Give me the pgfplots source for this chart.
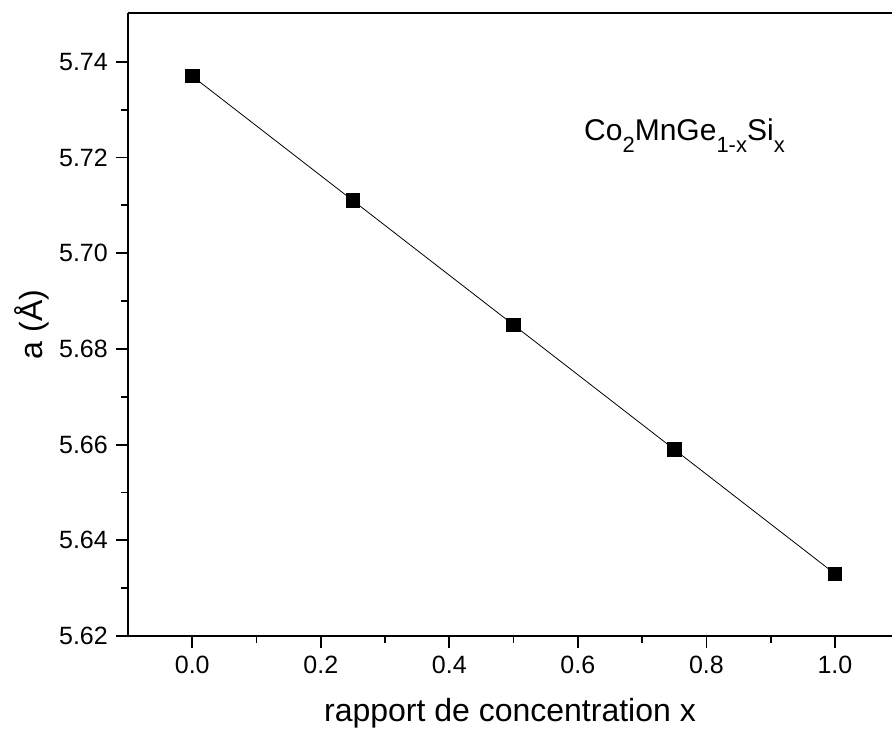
\documentclass[border=0pt]{standalone}
\usepackage{fontspec}
\setmainfont{Liberation Sans}
\usepackage{pgfplots}
\pgfplotsset{compat=1.18}
\newcommand\sub[1]{\raisebox{-12pt}{\fontsize{22}{26}\selectfont #1}}
\begin{document}
\begin{tikzpicture}
\begin{axis}[
  scale only axis, width=764pt, height=623pt,
  xmin=-0.1, xmax=1.0888, ymin=5.62, ymax=5.7502,
  axis x line=box, axis y line=left,
  axis line style={line width=1.8pt, -},
  xtick={0,0.2,0.4,0.6,0.8,1.0},
  minor x tick num=1,
  ytick={5.62,5.64,5.66,5.68,5.70,5.72,5.74},
  minor y tick num=1,
  xtick pos=left, ytick pos=left,
  tick align=outside,
  major tick length=12pt, minor tick length=7pt,
  every tick/.style={line width=1.8pt, black},
  xticklabels={0.0,0.2,0.4,0.6,0.8,1.0},
  yticklabels={5.62,5.64,5.66,5.68,5.70,5.72,5.74},
  tick label style={font=\fontsize{25}{30}\selectfont, inner sep=8pt},
  xlabel={rapport de concentration x},
  ylabel={a (Å)},
  xlabel style={font=\fontsize{32}{38}\selectfont, at={(axis description cs:0.5,-0.138)}, anchor=base},
  ylabel style={font=\fontsize{32}{38}\selectfont, at={(axis description cs:-0.1113,0.5)}, anchor=base},
  clip=false,
]
\addplot[black, line width=0.8pt, mark=square*, mark size=6.7pt, mark options={solid, fill=black}]
coordinates {(0,5.737) (0.25,5.711) (0.5,5.685) (0.75,5.659) (1.0,5.633)};
\node[anchor=base west, font=\fontsize{30}{36}\selectfont, inner sep=0pt] at (axis cs:0.6096,5.7235) {Co\sub{2}MnGe\sub{1-x}Si\sub{x}};
\end{axis}
\pgfresetboundingbox
\path[use as bounding box] (-128pt,-98pt) rectangle (764pt,636pt);
\end{tikzpicture}
\end{document}
